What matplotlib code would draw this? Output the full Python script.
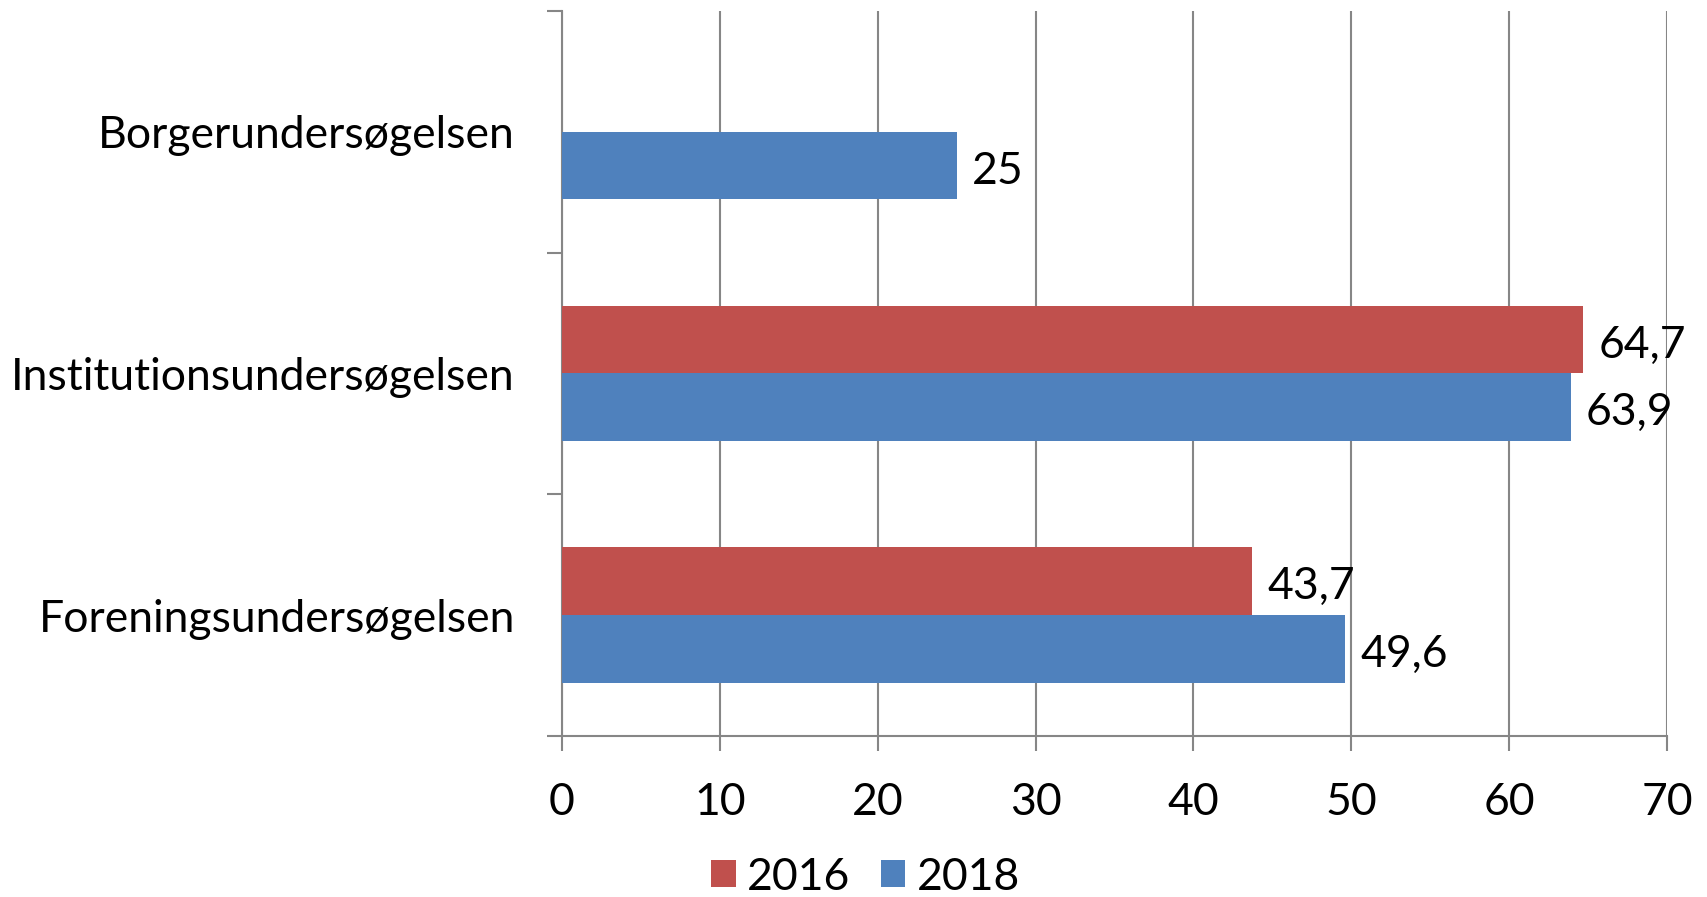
import matplotlib
matplotlib.use("Agg")
import matplotlib.pyplot as plt
import numpy as np

categories = ["Foreningsundersøgelsen", "Institutionsundersøgelsen", "Borgerundersøgelsen"]
series_names = ["2016", "2018"]
values_2016 = [43.7, 64.7, np.nan]
values_2018 = [49.6, 63.9, 25.0]
xticks = [0, 10, 20, 30, 40, 50, 60, 70]

def fmt(v):
    return f"{v:g}".replace(".", ",")

plt.rcParams['font.family'] = ['Lato', 'DejaVu Sans']
W, H = 1707, 897
fig = plt.figure(figsize=(W / 100, H / 100), dpi=100)
ax = fig.add_axes([562 / W, 1 - 736 / H, (1667 - 562) / W, (736 - 11) / H])

red = "#C0504D"
blue = "#4F81BD"
grid = "#868686"
h = 0.28
y = np.arange(len(categories))
ax.barh(y + h / 2, values_2016, height=h, color=red, label=series_names[0], zorder=3)
ax.barh(y - h / 2, values_2018, height=h, color=blue, label=series_names[1], zorder=3)

fs = 32
for yi, v in zip(y, values_2016):
    if not np.isnan(v):
        ax.annotate(fmt(v), (v, yi + h / 2), xytext=(11, -4), textcoords="offset points",
                    va="center", ha="left", fontsize=fs)
for yi, v in zip(y, values_2018):
    if not np.isnan(v):
        ax.annotate(fmt(v), (v, yi - h / 2), xytext=(11, -4), textcoords="offset points",
                    va="center", ha="left", fontsize=fs)

ax.set_xlim(0, 70)
ax.set_ylim(-0.5, 2.5)
ax.set_xticks(xticks)
ax.set_xticklabels([str(t) for t in xticks], fontsize=fs)
ax.set_yticks(y)
ax.set_yticklabels(categories, fontsize=fs)
ax.tick_params(axis="y", length=0, pad=34)
ax.set_yticks([-0.5, 0.5, 1.5, 2.5], minor=True)
ax.tick_params(axis="y", which="minor", length=11, color=grid, width=1.5)
ax.tick_params(axis="x", length=11, color=grid, width=1.5, pad=22)
ax.xaxis.grid(True, color=grid, linewidth=1.5, zorder=0)
ax.set_axisbelow(True)
for s in ["top", "right"]:
    ax.spines[s].set_visible(False)
for s in ["left", "bottom"]:
    ax.spines[s].set_color(grid)
    ax.spines[s].set_linewidth(1.5)

leg = fig.legend(loc="center", bbox_to_anchor=(0.5 + 12 / W, 1 - 877 / H), ncol=2, frameon=False,
                 fontsize=fs, handlelength=0.55, handleheight=0.55, handletextpad=0.25,
                 columnspacing=0.7, borderpad=0.05)

fig.savefig("out.png", dpi=100)
